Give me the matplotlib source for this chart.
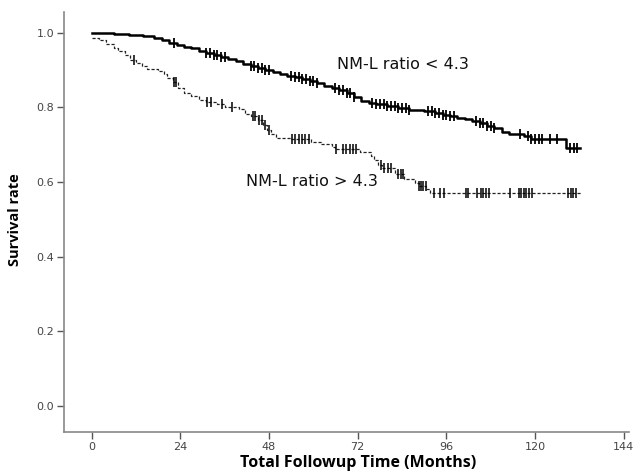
import numpy as np
import matplotlib
matplotlib.use("Agg")
import matplotlib.pyplot as plt

# NM-L ratio < 4.3 (solid): step times (months) and survival after each step
low_t = [0, 6, 10, 14, 17, 19, 21, 23, 25, 27, 29, 31, 33, 35, 37, 39, 41, 43, 45, 47,
         49, 51, 53, 55, 57, 59, 61, 63, 65, 67, 69, 71, 73, 75, 77, 80, 83, 86, 90, 93,
         95, 97, 99, 101, 103, 105, 107, 109, 111, 113, 117, 119, 128.5]
low_s = [1.0, 0.997, 0.994, 0.99, 0.985, 0.98, 0.972, 0.966, 0.962, 0.958, 0.952, 0.946,
         0.94, 0.936, 0.93, 0.924, 0.916, 0.91, 0.905, 0.9, 0.895, 0.89, 0.885, 0.88, 0.875,
         0.87, 0.865, 0.858, 0.852, 0.846, 0.838, 0.828, 0.818, 0.812, 0.808, 0.804, 0.798,
         0.794, 0.79, 0.785, 0.78, 0.776, 0.772, 0.768, 0.763, 0.757, 0.75, 0.745, 0.735,
         0.728, 0.722, 0.715, 0.69]
low_end = 132.3
low_cens = [22.4, 31, 32, 33, 34, 35, 36, 43, 44, 45, 46, 47, 48, 54, 55, 56, 57, 58, 59,
            60, 61, 66, 67, 68, 69, 70, 71, 76, 77, 78, 79, 80, 81, 82, 83, 84, 85, 86, 91,
            92, 93, 94, 95, 96, 97, 98, 104, 105, 106, 107, 108, 109, 116, 118, 119, 120,
            121, 122, 124, 126, 129.5, 130.5, 131.5]

# NM-L ratio > 4.3 (dashed)
high_t = [0, 2, 4, 6, 7, 9, 10.5, 12, 13.5, 15, 18, 19.5, 20.5, 22, 23.5, 25, 27, 29, 31,
          34, 36, 40, 41.5, 43, 45, 46.5, 47.5, 48.5, 50, 54, 59.5, 62, 65, 66, 72.5, 75.5,
          76.5, 77.5, 78.5, 82, 84.5, 87.5, 88.5, 90.5, 91.5]
high_s = [0.986, 0.98, 0.97, 0.96, 0.95, 0.94, 0.928, 0.918, 0.91, 0.903, 0.897, 0.888,
          0.878, 0.868, 0.852, 0.838, 0.83, 0.82, 0.815, 0.808, 0.802, 0.795, 0.782, 0.776,
          0.765, 0.752, 0.738, 0.728, 0.718, 0.714, 0.708, 0.702, 0.694, 0.688, 0.68, 0.67,
          0.658, 0.646, 0.636, 0.622, 0.608, 0.598, 0.59, 0.58, 0.57]
high_end = 132.8
high_cens = [11.5, 22.4, 22.9, 31.2, 32.4, 35.3, 38, 43.6, 44.3, 45.2, 46, 47, 48, 54.2,
             55.1, 56, 56.9, 57.8, 58.7, 66.2, 68, 68.9, 69.8, 70.7, 71.6, 78.3, 79.2, 80.1,
             81, 82.8, 83.6, 84.3, 88.7, 89.1, 89.6, 90.4, 92.7, 94.3, 95.4, 101.2, 101.8,
             104.4, 105.3, 106, 106.7, 107.5, 113.3, 115.6, 116.2, 116.9, 117.6, 118.3,
             119.1, 129, 129.7, 130.4, 131]

x_ticks = [0, 24, 48, 72, 96, 120, 144]
y_ticks = [0.0, 0.2, 0.4, 0.6, 0.8, 1.0]


def km_at(t, times, surv):
    idx = np.searchsorted(times, t, side="right") - 1
    return np.array(surv)[idx]


fig = plt.figure(figsize=(6.43, 4.71), dpi=100)
ax = fig.add_axes([0.0995, 0.083, 0.879, 0.892])

# solid curve
ax.step(low_t + [low_end], low_s + [low_s[-1]], where="post", color="black", lw=1.8)
ax.plot(low_cens, km_at(low_cens, low_t, low_s), ls="none", marker="|",
        ms=7, mew=1.3, color="black")

# dashed curve
ax.step(high_t + [high_end], high_s + [high_s[-1]], where="post", color="#222222",
        lw=0.9, ls=(0, (2.5, 1.5)))
ax.plot(high_cens, km_at(high_cens, high_t, high_s), ls="none", marker="|",
        ms=6.5, mew=1.1, color="black")

ax.text(66.5, 0.914, "NM-L ratio < 4.3", fontsize=11.5, va="center", color="#111111")
ax.text(41.8, 0.60, "NM-L ratio > 4.3", fontsize=11.5, va="center", color="#111111")

xlim = (-7.5, 145.5)
ylim = (-0.07, 1.056)
ax.set_xlim(*xlim)
ax.set_ylim(*ylim)
ax.set_xticks(x_ticks)
ax.set_xticklabels([str(v) for v in x_ticks])
ax.set_yticks(y_ticks)
ax.set_yticklabels([f"{v:.1f}" for v in y_ticks])

for side in ["top", "right"]:
    ax.spines[side].set_visible(False)
for side in ["left", "bottom"]:
    ax.spines[side].set_color("#888888")
    ax.spines[side].set_linewidth(1.2)
ax.tick_params(direction="out", length=5, width=1, color="#555555",
               labelsize=8, labelcolor="#444444", pad=2)

# labels centred on the tick range, as SPSS does
ax.set_xlabel("Total Followup Time (Months)", fontsize=11.5, fontweight="bold",
              family="Open Sans")
ax.set_ylabel("Survival rate", fontsize=10.5, fontweight="bold", family="Open Sans")
ax.xaxis.set_label_coords((72 - xlim[0]) / (xlim[1] - xlim[0]), -0.055)
ax.yaxis.set_label_coords(-0.075, (0.5 - ylim[0]) / (ylim[1] - ylim[0]))

fig.savefig("out.png", dpi=100)
